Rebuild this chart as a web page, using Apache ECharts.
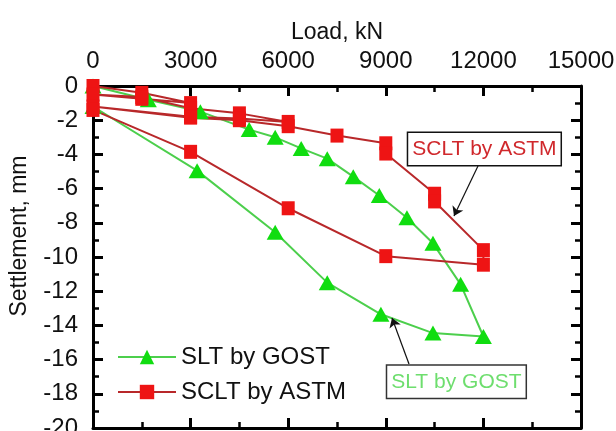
<!DOCTYPE html>
<html>
<head>
<meta charset="utf-8">
<script src="https://cdn.jsdelivr.net/npm/echarts@6/dist/echarts.min.js"></script>
<style>html,body{margin:0;padding:0;background:#fff;}#c{width:616px;height:431px;}</style>
</head>
<body>
<div id="c"></div>
<script>
// ---- data ----
const gostLoad   = [0, 1700, 3300, 4800, 5600, 6400, 7200, 8000, 8800, 9650, 10450, 11300, 12000, 10450, 8850, 7200, 5600, 3200, 0];
const gostSettle = [0, -0.8, -1.5, -2.55, -3.0, -3.65, -4.25, -5.3, -6.4, -7.7, -9.2, -11.6, -14.65, -14.45, -13.35, -11.5, -8.55, -4.95, -1.2];

const astmLoad   = [0, 1500, 3000, 1500, 0, 1500, 3000, 4500, 6000, 4500, 3000, 0, 3000, 4500, 6000, 7500, 9000, 9000, 10500, 10500, 12000, 12000, 9000, 6000, 3000, 0];
const astmSettle = [0, -0.4, -1.0, -0.75, -0.5, -0.65, -1.3, -1.6, -2.1, -1.9, -1.8, -1.2, -1.85, -2.0, -2.35, -2.9, -3.35, -3.95, -6.3, -6.75, -9.6, -10.45, -9.95, -7.15, -3.85, -1.4];

const seriesNames = ['SLT by GOST', 'SCLT by ASTM'];
const xTicks = [0, 3000, 6000, 9000, 12000, 15000];
const yTicks = [0, -2, -4, -6, -8, -10, -12, -14, -16, -18, -20];

// annotation anchors (data coordinates)
const astmNote  = [12030, -3.68];
const gostNote  = [11170, -17.3];
const astmArrow = [[11834, -4.68], [11096, -7.6]];
const gostArrow = [[9713, -16.26], [9191, -13.57]];

const FONT = '"Liberation Sans", Arial, sans-serif';
const pairs = (xs, ys) => xs.map((x, i) => [x, ys[i]]);

function axisCfg(ticks, position, showLabel) {
  const lo = Math.min.apply(null, ticks), hi = Math.max.apply(null, ticks);
  return {
    type: 'value',
    position: position,
    min: lo, max: hi, interval: Math.abs(ticks[1] - ticks[0]),
    axisLine: { show: true, onZero: false, lineStyle: { color: '#000', width: 3 } },
    axisTick: { show: true, inside: true, length: 10, lineStyle: { color: '#000', width: 3 } },
    minorTick: { show: true, splitNumber: 2, length: 6, lineStyle: { color: '#000', width: 2.5 } },
    splitLine: { show: false },
    axisLabel: { show: showLabel, fontSize: 24, color: '#111', fontFamily: FONT, formatter: v => String(v) }
  };
}

const xTop = axisCfg(xTicks, 'top', true);
xTop.name = 'Load, kN';
xTop.nameLocation = 'middle';
xTop.nameGap = 42;
xTop.nameTextStyle = { fontSize: 23, color: '#111', fontFamily: FONT };
xTop.axisLabel.margin = 13;
const xBottom = axisCfg(xTicks, 'bottom', false);
const yLeft = axisCfg(yTicks, 'left', true);
yLeft.axisLabel.margin = 15;
const yRight = axisCfg(yTicks, 'right', false);

const noteLabel = (text, color, borderColor) => ({
  show: true, position: 'inside', formatter: text, color: color, fontSize: 21, fontFamily: FONT,
  backgroundColor: '#fff', borderColor: borderColor, borderWidth: 1.5, padding: [6, 4, 5, 4]
});

const chart = echarts.init(document.getElementById('c'));
chart.setOption({
  animation: false,
  backgroundColor: '#fff',
  grid: { left: 93, right: 35, top: 86, bottom: 3, containLabel: false, outerBoundsMode: 'none' },
  xAxis: [xTop, xBottom],
  yAxis: [yLeft, yRight],
  graphic: [{
    type: 'text', x: 20, y: 236, rotation: Math.PI / 2,
    style: { text: 'Settlement, mm', fontSize: 23, fontFamily: FONT, fill: '#111', align: 'center', verticalAlign: 'middle' }
  }],
  legend: {
    orient: 'vertical', left: 112, top: 340, itemWidth: 58, itemHeight: 18, itemGap: 11,
    textStyle: { fontSize: 24, color: '#111', fontFamily: FONT },
    data: seriesNames
  },
  series: [
    {
      name: seriesNames[0], type: 'line',
      data: pairs(gostLoad, gostSettle),
      symbol: 'triangle', symbolSize: [17, 15],
      lineStyle: { color: '#4ccf4c', width: 2 },
      itemStyle: { color: '#10dd10' }
    },
    {
      name: seriesNames[1], type: 'line',
      data: pairs(astmLoad, astmSettle),
      symbol: 'rect', symbolSize: [13, 14],
      lineStyle: { color: '#b8282a', width: 2 },
      itemStyle: { color: '#ee1414' },
      markLine: {
        silent: true, symbol: ['none', 'arrow'], symbolSize: 9,
        label: { show: false },
        lineStyle: { color: '#111', width: 1.2, type: 'solid' },
        data: [
          [{ coord: astmArrow[0] }, { coord: astmArrow[1] }],
          [{ coord: gostArrow[0] }, { coord: gostArrow[1] }]
        ]
      },
      markPoint: {
        silent: true,
        symbol: 'circle', symbolSize: 1,
        itemStyle: { color: 'rgba(0,0,0,0)' },
        data: [
          { coord: astmNote, label: noteLabel(seriesNames[1], '#d0282c', '#111') },
          { coord: gostNote, label: noteLabel(seriesNames[0], '#6ede6e', '#333') }
        ]
      }
    }
  ]
});
</script>
</body>
</html>
